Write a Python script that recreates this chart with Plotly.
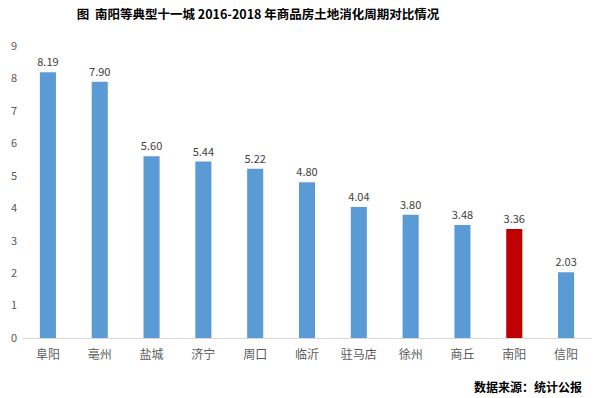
import plotly.graph_objects as go

cities = ["阜阳", "亳州", "盐城", "济宁", "周口", "临沂", "驻马店", "徐州", "商丘", "南阳", "信阳"]
values = [8.19, 7.90, 5.60, 5.44, 5.22, 4.80, 4.04, 3.80, 3.48, 3.36, 2.03]
highlight = "南阳"
tick_vals = list(range(0, 10))

colors = ["#C00000" if c == highlight else "#5B9BD5" for c in cities]

fig = go.Figure(go.Bar(
    x=cities, y=values, marker_color=colors, marker_line_width=0,
    text=[f"{v:.2f}" for v in values], textposition="outside",
    constraintext="none",
    textfont=dict(size=11, color="#404040", family="Noto Sans CJK SC"),
    cliponaxis=False, width=0.31,
))

fig.update_layout(
    width=613, height=398,
    margin=dict(l=22, r=21, t=46, b=60),
    paper_bgcolor="white", plot_bgcolor="white",
    font=dict(family="Noto Sans CJK SC", color="#595959"),
    title=dict(text="<b>图  南阳等典型十一城 2016-2018 年商品房土地消化周期对比情况</b>",
               x=258/613, xanchor="center", xref="container",
               y=1-15/398, yanchor="middle",
               font=dict(size=12.5, color="#000000", family="Noto Sans CJK SC")),
    showlegend=False,
    xaxis=dict(showline=True, linecolor="#D9D9D9", linewidth=1, ticks="",
               ticklabelstandoff=6,
               tickfont=dict(size=12, color="#595959")),
    yaxis=dict(range=[0, 9], tickvals=tick_vals, showgrid=False, zeroline=False,
               showline=False, ticks="", ticklabelstandoff=4,
               tickfont=dict(size=11, color="#595959")),
    annotations=[dict(text="<b>数据来源：统计公报</b>", xref="paper", yref="paper",
                      x=604/613, y=0, xanchor="right", yanchor="middle",
                      yshift=-48, showarrow=False,
                      font=dict(size=12, color="#000000", family="Noto Sans CJK SC"))],
)

fig.write_html("out.html")
